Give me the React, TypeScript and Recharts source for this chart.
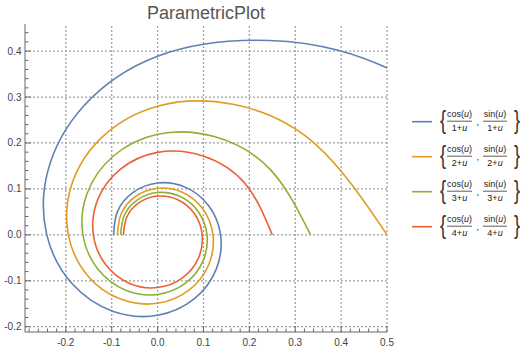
import React from 'react';
import { LineChart, Line, XAxis, YAxis, ReferenceLine, Legend } from 'recharts';

// Points read along each spiral (x, y)
const series1 = [
  { x: 1.0, y: 0 }, { x: 0.5684, y: 0.3282 }, { x: 0.2443, y: 0.4231 }, { x: 0, y: 0.389 },
  { x: -0.1616, y: 0.2799 }, { x: -0.2394, y: 0.1382 }, { x: -0.2415, y: 0 }, { x: -0.1857, y: -0.1072 },
  { x: -0.0964, y: -0.1669 }, { x: 0, y: -0.1751 }, { x: 0.0802, y: -0.1389 }, { x: 0.1281, y: -0.074 },
  { x: 0.1373, y: 0 }, { x: 0.1109, y: 0.0641 }, { x: 0.06, y: 0.1039 }, { x: 0, y: 0.1129 },
  { x: -0.0533, y: 0.0923 }, { x: -0.0875, y: 0.0505 }, { x: -0.0959, y: 0 },
];
const series2 = [
  { x: 0.5, y: 0 }, { x: 0.3432, y: 0.1982 }, { x: 0.1641, y: 0.2842 }, { x: 0, y: 0.28 },
  { x: -0.1221, y: 0.2115 }, { x: -0.1875, y: 0.1083 }, { x: -0.1945, y: 0 }, { x: -0.1529, y: -0.0883 },
  { x: -0.0808, y: -0.1399 }, { x: 0, y: -0.149 }, { x: 0.0691, y: -0.1197 }, { x: 0.1116, y: -0.0645 },
  { x: 0.1207, y: 0 }, { x: 0.0983, y: 0.0568 }, { x: 0.0536, y: 0.0928 }, { x: 0, y: 0.1015 },
  { x: -0.0482, y: 0.0835 }, { x: -0.0794, y: 0.0459 }, { x: -0.0875, y: 0 },
];
const series3 = [
  { x: 0.3333, y: 0 }, { x: 0.2458, y: 0.1419 }, { x: 0.1236, y: 0.214 }, { x: 0, y: 0.2188 },
  { x: -0.0982, y: 0.17 }, { x: -0.1541, y: 0.089 }, { x: -0.1628, y: 0 }, { x: -0.1299, y: -0.075 },
  { x: -0.0696, y: -0.1205 }, { x: 0, y: -0.1297 }, { x: 0.0607, y: -0.1051 }, { x: 0.0989, y: -0.0571 },
  { x: 0.1077, y: 0 }, { x: 0.0883, y: 0.051 }, { x: 0.0484, y: 0.0838 }, { x: 0, y: 0.0921 },
  { x: -0.044, y: 0.0761 }, { x: -0.0727, y: 0.042 }, { x: -0.0805, y: 0 },
];
const series4 = [
  { x: 0.25, y: 0 }, { x: 0.1915, y: 0.1106 }, { x: 0.0991, y: 0.1716 }, { x: 0, y: 0.1795 },
  { x: -0.0821, y: 0.1421 }, { x: -0.1309, y: 0.0756 }, { x: -0.14, y: 0 }, { x: -0.113, y: -0.0653 },
  { x: -0.0611, y: -0.1057 }, { x: 0, y: -0.1148 }, { x: 0.0542, y: -0.0938 }, { x: 0.0888, y: -0.0513 },
  { x: 0.0972, y: 0 }, { x: 0.0801, y: 0.0463 }, { x: 0.0442, y: 0.0765 }, { x: 0, y: 0.0844 },
  { x: -0.0404, y: 0.07 }, { x: -0.0671, y: 0.0388 }, { x: -0.0745, y: 0 },
];

const seriesData = [series1, series2, series3, series4];
const seriesDenoms = ['1', '2', '3', '4'];
const seriesColors = ['#5E81B5', '#E19C24', '#8FB032', '#EB6235'];

const xTicks = [
  -0.28, -0.26, -0.24, -0.22, -0.2, -0.18, -0.16, -0.14, -0.12, -0.1, -0.08, -0.06, -0.04, -0.02,
  0, 0.02, 0.04, 0.06, 0.08, 0.1, 0.12, 0.14, 0.16, 0.18, 0.2, 0.22, 0.24, 0.26, 0.28, 0.3,
  0.32, 0.34, 0.36, 0.38, 0.4, 0.42, 0.44, 0.46, 0.48, 0.5,
];
const yTicks = [
  -0.2, -0.18, -0.16, -0.14, -0.12, -0.1, -0.08, -0.06, -0.04, -0.02, 0, 0.02, 0.04, 0.06, 0.08,
  0.1, 0.12, 0.14, 0.16, 0.18, 0.2, 0.22, 0.24, 0.26, 0.28, 0.3, 0.32, 0.34, 0.36, 0.38, 0.4, 0.42, 0.44,
];
const xGrid = [-0.2, -0.1, 0, 0.1, 0.2, 0.3, 0.4, 0.5];
const yGrid = [-0.2, -0.1, 0, 0.1, 0.2, 0.3, 0.4];
const xDomain = [-0.289, 0.5];
const yDomain = [-0.2115, 0.459];

const FRAME = '#666';
const LABEL = '#444';
const FONT = '"Liberation Sans", Arial, sans-serif';

const isMajor = (v: number) => Math.abs(v * 10 - Math.round(v * 10)) < 1e-6;
const fmt = (v: number) => {
  const s = (Math.round(v * 10) / 10).toFixed(1);
  return s === '-0.0' ? '0.0' : s;
};

const makeTick = (side: 'bottom' | 'top' | 'left' | 'right') => (props: any) => {
  const { x, y, payload } = props;
  const v = payload.value;
  const major = isMajor(v);
  const len = major ? 6 : 3.5;
  let line;
  if (side === 'bottom') line = <line x1={x} x2={x} y1={y} y2={y - len} stroke={FRAME} />;
  else if (side === 'top') line = <line x1={x} x2={x} y1={y} y2={y + len} stroke={FRAME} />;
  else if (side === 'left') line = <line x1={x} x2={x + len} y1={y} y2={y} stroke={FRAME} />;
  else line = <line x1={x} x2={x - len} y1={y} y2={y} stroke={FRAME} />;
  let label = null;
  if (major && side === 'bottom')
    label = (
      <text x={x} y={y + 14} textAnchor="middle" fontSize={10} fill={LABEL} fontFamily={FONT}>
        {fmt(v)}
      </text>
    );
  if (major && side === 'left')
    label = (
      <text x={x - 3.5} y={y + 3.5} textAnchor="end" fontSize={10} fill={LABEL} fontFamily={FONT}>
        {fmt(v)}
      </text>
    );
  return (
    <g>
      {line}
      {label}
    </g>
  );
};

const renderLegend = () => (
  <svg width={128} height={150} style={{ display: 'block', overflow: 'visible' }}>
    {seriesDenoms.map((d, i) => {
      const cy = 21.7 + 35 * i;
      return (
        <g key={d} fontFamily={FONT} fill="#222">
          <line x1={12} x2={32} y1={cy} y2={cy} stroke={seriesColors[i]} strokeWidth={1.6} />
          <text transform={`translate(40, ${cy + 7}) scale(0.7, 1)`} fontSize={26} fill="#333">
            {'{'}
          </text>
          <text x={59.5} y={cy - 4.5} fontSize={9} textAnchor="middle">
            cos(<tspan fontStyle="italic">u</tspan>)
          </text>
          <line x1={47} x2={72} y1={cy - 0.5} y2={cy - 0.5} stroke="#333" strokeWidth={0.8} />
          <text x={59.5} y={cy + 9.5} fontSize={9} textAnchor="middle">
            {d}+<tspan fontStyle="italic">u</tspan>
          </text>
          <text x={76.5} y={cy + 3} fontSize={9}>
            ,
          </text>
          <text x={95} y={cy - 4.5} fontSize={9} textAnchor="middle">
            sin(<tspan fontStyle="italic">u</tspan>)
          </text>
          <line x1={83} x2={107} y1={cy - 0.5} y2={cy - 0.5} stroke="#333" strokeWidth={0.8} />
          <text x={95} y={cy + 9.5} fontSize={9} textAnchor="middle">
            {d}+<tspan fontStyle="italic">u</tspan>
          </text>
          <text transform={`translate(114, ${cy + 7}) scale(0.7, 1)`} fontSize={26} fill="#333">
            {'}'}
          </text>
        </g>
      );
    })}
  </svg>
);

export default function App() {
  return (
    <div style={{ position: 'absolute', left: 0, top: 0, width: 528, height: 351, background: '#fff' }}>
      <LineChart width={528} height={351} margin={{ top: 24, right: 13, bottom: 0, left: 0 }}>
        <text x={206} y={19} textAnchor="middle" fontSize={18} fill="#555" fontFamily={FONT}>
          ParametricPlot
        </text>
        <XAxis
          xAxisId="b"
          type="number"
          dataKey="x"
          orientation="bottom"
          domain={xDomain}
          allowDataOverflow
          ticks={xTicks}
          interval={0}
          height={19}
          tickSize={0}
          tickMargin={0}
          tickLine={false}
          axisLine={{ stroke: FRAME }}
          tick={makeTick('bottom')}
        />
        <XAxis
          xAxisId="t"
          type="number"
          orientation="top"
          domain={xDomain}
          allowDataOverflow
          ticks={xTicks}
          interval={0}
          height={0}
          tickSize={0}
          tickMargin={0}
          tickLine={false}
          axisLine={{ stroke: FRAME }}
          tick={makeTick('top')}
        />
        <YAxis
          yAxisId="l"
          type="number"
          orientation="left"
          domain={yDomain}
          allowDataOverflow
          ticks={yTicks}
          interval={0}
          width={25}
          tickSize={0}
          tickMargin={0}
          tickLine={false}
          axisLine={{ stroke: FRAME }}
          tick={makeTick('left')}
        />
        <YAxis
          yAxisId="r"
          type="number"
          orientation="right"
          domain={yDomain}
          allowDataOverflow
          ticks={yTicks}
          interval={0}
          width={0}
          tickSize={0}
          tickMargin={0}
          tickLine={false}
          axisLine={{ stroke: FRAME }}
          tick={makeTick('right')}
        />
        {xGrid.map((v) => (
          <ReferenceLine
            key={'gx' + v}
            xAxisId="b"
            yAxisId="l"
            x={v}
            stroke="#a0a0a0"
            strokeWidth={1.3}
            strokeDasharray="2 2"
          />
        ))}
        {yGrid.map((v) => (
          <ReferenceLine
            key={'gy' + v}
            xAxisId="b"
            yAxisId="l"
            y={v}
            stroke="#a0a0a0"
            strokeWidth={1.3}
            strokeDasharray="2 2"
          />
        ))}
        {seriesData.map((d, i) => (
          <Line
            key={i}
            xAxisId="b"
            yAxisId="l"
            data={d}
            dataKey="y"
            name={`{cos(u)/(${seriesDenoms[i]}+u), sin(u)/(${seriesDenoms[i]}+u)}`}
            type="natural"
            stroke={seriesColors[i]}
            strokeWidth={1.6}
            dot={false}
            activeDot={false}
            isAnimationActive={false}
          />
        ))}
        <Legend
          layout="vertical"
          align="right"
          verticalAlign="top"
          width={128}
          wrapperStyle={{ left: 400, top: 100, width: 128 }}
          content={renderLegend}
        />
      </LineChart>
    </div>
  );
}
